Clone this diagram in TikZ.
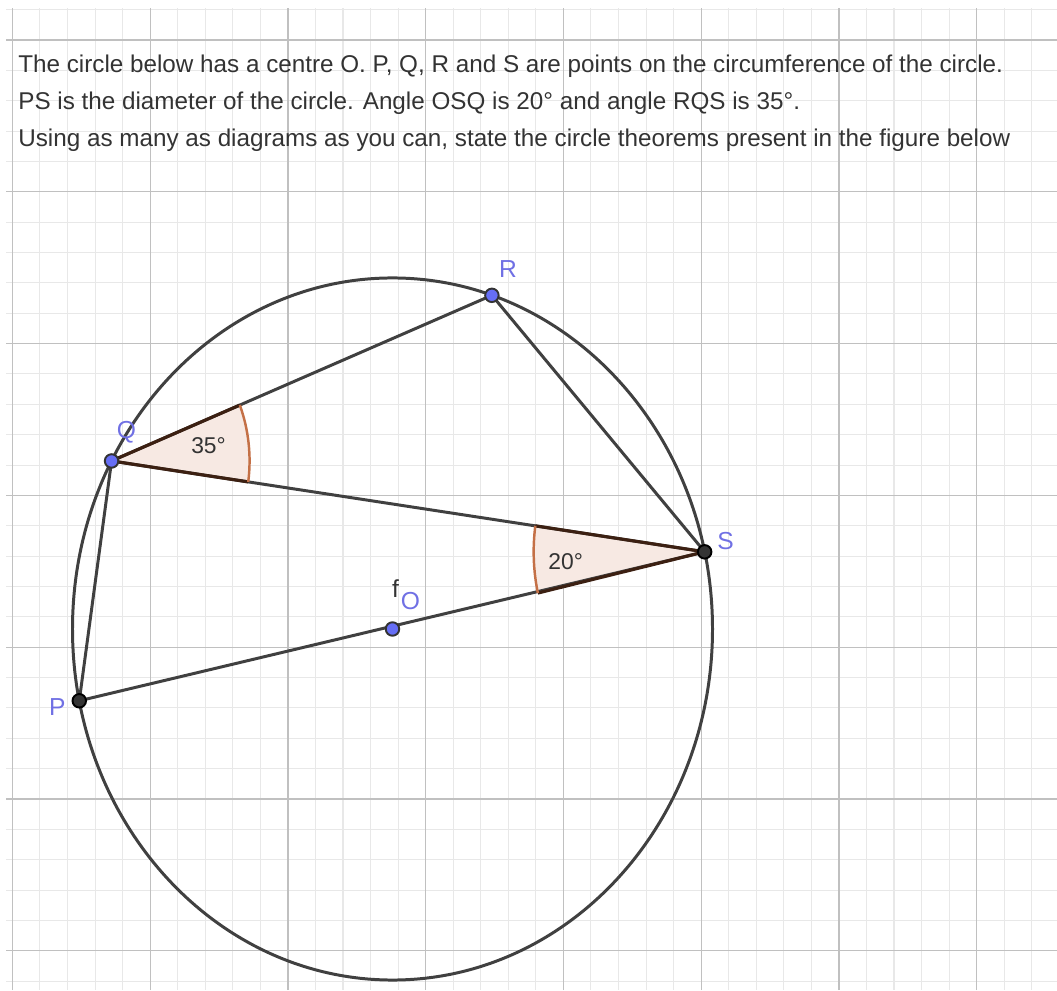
\documentclass[tikz,border=0pt]{standalone}
\usepackage{fontspec}
\setmainfont{Liberation Sans}
\usepackage{xcolor}
\usepackage{tikz}

\definecolor{minorgray}{RGB}{232,232,232}
\definecolor{majorgray}{RGB}{192,192,192}
\definecolor{segcol}{RGB}{64,64,64}
\definecolor{ptblue}{RGB}{102,110,245}
\definecolor{ptdark}{RGB}{52,52,52}
\definecolor{lblblue}{RGB}{112,112,228}
\definecolor{wedgefill}{RGB}{247,233,227}
\definecolor{arcbrown}{RGB}{196,112,70}
\definecolor{sidebrown}{RGB}{60,32,18}

\tikzset{
  minorgrid/.style={draw=minorgray, line width=0.6pt},
  majorgrid/.style={draw=majorgray, line width=0.7pt},
  seg/.style={draw=segcol, line width=1.7pt},
  circ/.style={draw=segcol, line width=1.7pt},
  bluept/.style={circle, draw=black!80, fill=ptblue, line width=1.1pt, inner sep=0pt, minimum size=0.27cm},
  darkpt/.style={circle, draw=black, fill=ptdark, line width=1.1pt, inner sep=0pt, minimum size=0.27cm},
  ptlabel/.style={text=lblblue, font=\fontsize{14}{16}\selectfont, inner sep=0pt},
  qtext/.style={anchor=base west, text=black!80, font=\fontsize{13.8}{16}\selectfont, inner sep=0pt},
  anglbl/.style={text=black!80, font=\fontsize{13}{15}\selectfont, inner sep=0pt},
  wedge/.style={fill=wedgefill},
  wedgeside/.style={draw=sidebrown, line width=1.8pt},
  wedgearc/.style={draw=arcbrown, line width=1.4pt}
}

\begin{document}
\begin{tikzpicture}[x=0.02cm, y=0.02cm]
\useasboundingbox (0,0) rectangle (1057,990);

% grid
\foreach \k in {0,...,37} {
  \pgfmathsetmacro\gx{12.4+27.55*\k}
  \draw[minorgrid] (\gx,0) -- (\gx,982);
}
\foreach \k in {-1,...,31} {
  \pgfmathsetmacro\gy{950-30.36*\k}
  \draw[minorgrid] (6,\gy) -- (1057,\gy);
}
\foreach \k in {0,5,...,35} {
  \pgfmathsetmacro\gx{12.4+27.55*\k}
  \draw[majorgrid] (\gx,0) -- (\gx,982);
}
\foreach \k in {0,5,...,30} {
  \pgfmathsetmacro\gy{950-30.36*\k}
  \draw[majorgrid] (6,\gy) -- (1057,\gy);
}

% question text
\node[qtext] (line1) at (18,917) {The circle below has a centre O. P, Q, R and S are points on the circumference of the circle.};
\node[qtext] (line2) at (18,880) {PS is the diameter of the circle. Angle OSQ is 20° and angle RQS is 35°.};
\node[qtext] (line3) at (18,843) {Using as many as diagrams as you can, state the circle theorems present in the figure below};

% the figure, stretched a little upright as in the screenshot
\begin{scope}[shift={(392.5,361)}, yscale=1.097]
\coordinate (O) at (0,0);
\coordinate (S) at (12.7:320);
\coordinate (R) at (71.9:320);
\coordinate (Q) at (151.4:320);
\coordinate (P) at (191.8:320);

\fill[wedge] (Q) -- ++(-7.96:138) arc[start angle=-7.96, end angle=21.65, radius=138] -- cycle;
\fill[wedge] (S) -- ++(172.04:171) arc[start angle=172.04, end angle=192.69, radius=171] -- cycle;

\draw[circ] (O) circle[radius=320];
\draw[seg] (P) -- (S);
\draw[seg] (Q) -- (S);
\draw[seg] (Q) -- (R);
\draw[seg] (R) -- (S);
\draw[seg] (Q) -- (P);

\draw[wedgeside] (Q) -- ++(21.65:138);
\draw[wedgeside] (Q) -- ++(-7.96:138);
\draw[wedgeside] (S) -- ++(172.04:171);
\draw[wedgeside] (S) -- ++(192.69:171);
\draw[wedgearc] (Q) ++(-7.96:138) arc[start angle=-7.96, end angle=21.65, radius=138];
\draw[wedgearc] (S) ++(172.04:171) arc[start angle=172.04, end angle=192.69, radius=171];
\end{scope}

\node[anglbl] (a35) at ([shift={(97,15)}]Q) {35°};
\node[anglbl] (a20) at ([shift={(-139,-10)}]S) {20°};

\node[bluept] (qpt) at (Q) {};
\node[bluept] (rpt) at (R) {};
\node[bluept] (opt) at (O) {};
\node[darkpt] (spt) at (S) {};
\node[darkpt] (ppt) at (P) {};

\node[ptlabel] (qlbl) at ([shift={(15,29)}]Q) {Q};
\node[ptlabel] (rlbl) at ([shift={(16,26)}]R) {R};
\node[ptlabel] (slbl) at ([shift={(21,11)}]S) {S};
\node[ptlabel] (olbl) at ([shift={(18,28)}]O) {O};
\node[ptlabel] (plbl) at ([shift={(-22,-6)}]P) {P};
\node[text=black!80, font=\fontsize{14}{16}\selectfont, inner sep=0pt] (flbl) at ([shift={(3,40)}]O) {f};
\end{tikzpicture}
\end{document}
